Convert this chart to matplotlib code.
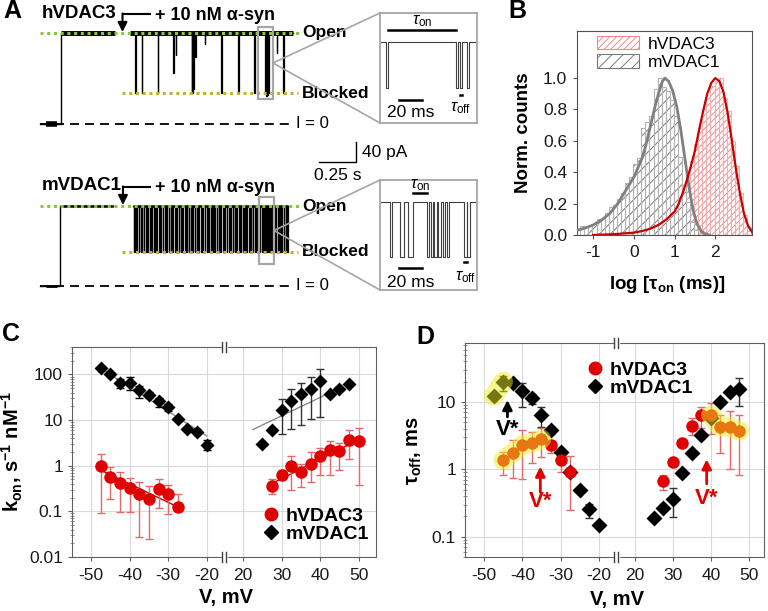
import numpy as np
import matplotlib.pyplot as plt
from matplotlib.lines import Line2D
from matplotlib.patches import Rectangle, Patch, ConnectionPatch
from matplotlib.ticker import LogLocator, NullFormatter

plt.rcParams['font.family'] = ['Liberation Sans', 'DejaVu Sans']
plt.rcParams['mathtext.fontset'] = 'custom'
plt.rcParams['mathtext.rm'] = 'Liberation Sans'
plt.rcParams['mathtext.it'] = 'Liberation Sans:italic'
plt.rcParams['mathtext.bf'] = 'Liberation Sans:bold'
plt.rcParams['axes.unicode_minus'] = False
plt.rcParams['hatch.linewidth'] = 0.7

############################## data ##############################
# --- A: single channel traces, time in s, current in pA (0 = closed)
h3_open, h3_block = 182, 62
h3_t_on = 0.142
h3_gap = (0.507, 0.608)          # alpha-syn added here
h3_t_end = 1.709
h3_ev_t = [0.642, 0.687, 0.795, 0.900, 0.917, 1.026, 1.030, 1.034, 1.049, 1.113,
           1.223, 1.340, 1.448, 1.522, 1.527, 1.532, 1.537, 1.541, 1.599, 1.644]
h3_ev_I = [62, 62, 62, 102, 138, 66, 62, 70, 134, 160,
           62, 62, 62, 62, 56, 62, 58, 62, 142, 62]

m1_shift = -324                  # second trace drawn below the first
m1_open, m1_block = 160, 68
m1_t_on = 0.135
m1_gap = (0.493, 0.628)
m1_t_end = 1.676
m1_ev_t = [0.632, 0.645, 0.651, 0.668, 0.680, 0.688, 0.702, 0.716, 0.724, 0.741,
           0.750, 0.768, 0.779, 0.787, 0.805, 0.812, 0.830, 0.846, 0.853, 0.870,
           0.884, 0.893, 0.912, 0.920, 0.938, 0.951, 0.962, 0.980, 0.990, 1.006,
           1.019, 1.027, 1.046, 1.058, 1.070, 1.088, 1.096, 1.113, 1.130, 1.139,
           1.155, 1.168, 1.176, 1.195, 1.207, 1.219, 1.236, 1.245, 1.262, 1.277,
           1.286, 1.303, 1.316, 1.327, 1.345, 1.356, 1.372, 1.386, 1.395, 1.412,
           1.425, 1.437, 1.455, 1.466, 1.480, 1.497, 1.507, 1.522, 1.537, 1.547,
           1.564, 1.578, 1.590, 1.606, 1.618, 1.631, 1.648, 1.660, 1.672]

# insets, time in ms
in1_start = [5.5, 66.0, 69.6, 75.5]
in1_end = [6.7, 68.2, 71.2, 77.1]
in2_start = [8.7, 17.4, 24.6, 40.6, 44.1, 46.9, 50.7, 54.5, 58.0, 73.0, 75.9]
in2_end = [10.1, 20.9, 28.4, 42.9, 45.8, 49.3, 52.8, 56.5, 60.3, 75.4, 78.3]

# --- B: tau_on histograms (log10 ms) and fitted curves
m1_bin_c = np.arange(31) * 0.1 - 1.27
m1_hist = [0.06, 0.05, 0.06, 0.07, 0.10, 0.10, 0.14, 0.18, 0.19, 0.23, 0.27, 0.33, 0.37,
           0.45, 0.49, 0.68, 0.72, 0.76, 0.93, 1.00, 0.94, 0.92, 0.86, 0.76, 0.50, 0.32,
           0.21, 0.08, 0.03, 0.01, 0.005]
h3_bin_c = np.arange(30) * 0.1 - 0.07
h3_hist = [0.01, 0.02, 0.02, 0.03, 0.03, 0.04, 0.05, 0.07, 0.08, 0.10, 0.13, 0.16, 0.21,
           0.28, 0.38, 0.47, 0.58, 0.68, 0.80, 0.87, 0.95, 0.98, 1.00, 0.87, 0.79, 0.60,
           0.44, 0.27, 0.13, 0.05]
m1_fit_x = [-1.4, -1.2, -1.0, -0.8, -0.6, -0.4, -0.2, 0.0, 0.2, 0.3, 0.4, 0.5, 0.6, 0.7,
            0.76, 0.85, 0.95, 1.05, 1.15, 1.25, 1.35, 1.45, 1.55, 1.65, 1.75, 1.85]
m1_fit_y = [0.03, 0.045, 0.064, 0.095, 0.135, 0.2, 0.285, 0.37, 0.49, 0.58, 0.69, 0.80,
            0.90, 0.98, 1.0, 0.98, 0.92, 0.82, 0.67, 0.49, 0.31, 0.16, 0.07, 0.025, 0.008, 0.0]
h3_fit_x = [-1.0, -0.5, 0.0, 0.2, 0.4, 0.6, 0.8, 1.0, 1.1, 1.2, 1.3, 1.4, 1.5, 1.6, 1.7,
            1.8, 1.9, 2.0, 2.1, 2.2, 2.3, 2.4, 2.5, 2.6, 2.7, 2.8, 2.9]
h3_fit_y = [0.0, 0.005, 0.015, 0.025, 0.04, 0.064, 0.1, 0.15, 0.2, 0.27, 0.35, 0.44, 0.54,
            0.67, 0.79, 0.9, 0.97, 1.0, 0.98, 0.91, 0.78, 0.61, 0.43, 0.27, 0.14, 0.06, 0.02]

# --- C: k_on (s^-1 nM^-1) vs V (mV)
c_h3_vn = [-47.5, -45, -42.5, -40, -37.5, -35, -32.5, -30, -27.5]
c_h3_kn = [0.98, 0.57, 0.42, 0.33, 0.237, 0.19, 0.315, 0.237, 0.122]
c_h3_kn_hi = [1.83, 0.93, 0.73, 0.55, 0.43, 0.355, 0.50, 0.37, 0.245]
c_h3_kn_lo = [0.09, 0.19, 0.098, 0.098, 0.028, 0.0245, 0.12, 0.087, 0.122]
c_m1_vn = [-47.5, -45, -42.5, -40, -37.5, -35, -32.5, -30, -27.5, -25, -22.5, -20]
c_m1_kn = [141, 101, 64, 66, 46, 36, 26.5, 19, 10.6, 6.4, 5.6, 2.9]
c_m1_kn_hi = [141, 101, 80, 86, 56, 42, 31, 22, 10.6, 6.4, 6.3, 3.6]
c_m1_kn_lo = [141, 101, 50, 46, 31, 30, 19, 16, 10.6, 6.4, 5.0, 2.16]
c_h3_vp = [27.5, 30, 32.5, 35, 37.5, 40, 42.5, 45, 47.5, 50]
c_h3_kp = [0.355, 0.636, 0.98, 0.73, 1.1, 1.6, 2.16, 2.09, 3.75, 3.56]
c_h3_kp_hi = [0.5, 0.79, 1.62, 1.1, 1.98, 2.47, 3.56, 3.12, 6.1, 6.7]
c_h3_kp_lo = [0.245, 0.52, 0.29, 0.34, 0.44, 0.64, 0.62, 0.79, 1.42, 0.37]
c_m1_vp = [25, 27.5, 30, 32.5, 35, 37.5, 40, 42.5, 45, 47.5]
c_m1_kp = [3.0, 6.1, 16.9, 26.5, 37, 47.5, 72, 37, 49, 63]
c_m1_kp_hi = [3.0, 6.1, 28.8, 47.5, 64, 88, 130, 37, 49, 63]
c_m1_kp_lo = [3.0, 6.1, 5.0, 6.4, 7.9, 10.6, 11.9, 37, 49, 63]
# exponential fits (end points)
fit_h3_n = ([-47.5, -27.5], [0.8, 0.125])
fit_m1_n = ([-47.5, -20], [135, 4.5])
fit_h3_p = ([27.5, 50], [0.41, 3.7])
fit_m1_p = ([22.5, 45], [6.2, 50])

# --- D: tau_off (ms) vs V (mV)
d_m1_vn = [-47.5, -45, -42.5, -40, -37.5, -35, -32.5, -30, -27.5, -25, -22.5, -20]
d_m1_tn = [12.3, 20.1, 19.0, 14.3, 11.6, 6.4, 3.8, 1.81, 0.91, 0.50, 0.26, 0.15]
d_m1_tn_hi = [12.3, 24.7, 19.0, 19.4, 13.0, 8.5, 4.2, 1.97, 0.91, 0.50, 0.31, 0.15]
d_m1_tn_lo = [12.3, 14.3, 19.0, 8.5, 9.2, 4.3, 3.4, 1.6, 0.91, 0.50, 0.19, 0.15]
d_h3_vn = [-45, -42.5, -40, -37.5, -35, -32.5, -30, -27.5]
d_h3_tn = [1.36, 1.77, 2.28, 2.47, 2.8, 2.28, 1.39, 0.91]
d_h3_tn_hi = [1.81, 2.71, 3.82, 3.6, 4.05, 2.62, 1.71, 1.58]
d_h3_tn_lo = [0.83, 0.74, 0.71, 1.26, 1.53, 1.77, 0.91, 0.25]
d_m1_vp = [25, 27.5, 30, 32.5, 35, 37.5, 40, 42.5, 45, 47.5]
d_m1_tp = [0.188, 0.265, 0.365, 0.89, 1.75, 3.22, 5.84, 9.9, 13.9, 15.6]
d_m1_tp_hi = [0.188, 0.265, 0.53, 0.89, 1.75, 3.22, 5.84, 9.9, 13.9, 22.6]
d_m1_tp_lo = [0.188, 0.265, 0.199, 0.89, 1.75, 3.22, 5.84, 9.9, 13.9, 8.8]
d_h3_vp = [27.5, 30, 32.5, 35, 37.5, 40, 42.5, 45, 47.5]
d_h3_tp = [0.67, 1.29, 2.5, 4.43, 6.4, 6.4, 4.28, 4.28, 3.69]
d_h3_tp_hi = [0.83, 1.29, 2.5, 5.7, 8.5, 9.5, 6.4, 7.3, 6.4]
d_h3_tp_lo = [0.50, 1.29, 2.5, 3.2, 4.05, 3.3, 1.77, 1.02, 0.83]
# V* arrows: (V, base, tip, label y)
vstar = [(-43.9, 6.0, 10.7, 3.95, 'k'), (-35.3, 0.46, 1.1, 0.33, 'r'), (38.9, 0.61, 1.41, 0.365, 'r')]

RED = '#e00000'
RED_ERR = '#e46a6a'
HILITE = '#eeee22'

############################## figure ##############################
W, H = 768, 611
fig = plt.figure(figsize=(W / 100, H / 100), dpi=100)


def box(x0, y0, x1, y1):
    return [x0 / W, 1 - y1 / H, (x1 - x0) / W, (y1 - y0) / H]


def fxy(x, y):
    return (x / W, 1 - y / H)


def fline(xs, ys, **kw):
    fig.add_artist(Line2D([x / W for x in xs], [1 - y / H for y in ys],
                          transform=fig.transFigure, **kw))


for lab, x, y in [('A', 3, 11), ('B', 508, 11), ('C', 2, 334), ('D', 416, 337)]:
    fig.text(*fxy(x, y), lab, fontsize=18, fontweight='bold', ha='left', va='center')

############################## A ##############################
axA = fig.add_axes(box(30, 0, 512, 300))
axA.set_xlim(-10 / 148, 472 / 148)
axA.set_ylim(-352, 248)
axA.axis('off')


def trace_arrays(t_on, gap, t_end, ev_t, ev_I, i_open, dwell):
    t1 = [0, t_on, t_on, gap[0]]
    y1 = [0, 0, i_open, i_open]
    t2, y2 = [gap[1]], [i_open]
    for te, ib in zip(ev_t, ev_I):
        t2 += [te, te, te + dwell, te + dwell]
        y2 += [i_open, ib, ib, i_open]
    t2.append(t_end)
    y2.append(i_open)
    return np.array(t1), np.array(y1), np.array(t2), np.array(y2)


def draw_trace(name, t_on, gap, t_end, ev_t, ev_I, i_open, i_block, shift, band, blob):
    t1, y1, t2, y2 = trace_arrays(t_on, gap, t_end, ev_t, ev_I, i_open, 0.004)
    axA.plot(t1, y1 + shift, color='k', lw=1)
    axA.plot(t2, y2 + shift, color='k', lw=0.9)
    # noisy open level
    axA.plot([t_on, gap[0]], [i_open + shift] * 2, color='k', lw=band, solid_capstyle='butt')
    axA.plot([gap[1], t_end], [i_open + shift] * 2, color='k', lw=band, solid_capstyle='butt')
    axA.plot([0.04, 0.115], [shift, shift], color='k', lw=blob, solid_capstyle='butt')
    # levels
    axA.plot([0, 1.757], [i_open + shift] * 2, color='#8cc63e', lw=2.2, ls=(0, (1, 1.2)), zorder=4)
    axA.plot([0.554, 1.743], [i_block + shift] * 2, color='#c4b22e', lw=2.2, ls=(0, (1, 1.2)), zorder=4)
    axA.plot([0, 1.689], [shift, shift], color='k', lw=1.3, ls=(0, (5, 3.3)))
    axA.text(1.73, shift, 'I = 0', fontsize=12, ha='left', va='center')
    axA.text(1.77, i_open + shift, 'Open', fontsize=12.5, fontweight='bold', ha='left', va='center')
    axA.text(1.77, i_block + shift, 'Blocked', fontsize=12.5, fontweight='bold', ha='left', va='center')
    axA.text(0.0135, i_open + shift + 40, name, fontsize=13.5, fontweight='bold', ha='left', va='center')
    # alpha-syn addition
    ta = (gap[0] + gap[1]) / 2
    axA.text(0.775, i_open + shift + 36, '+ 10 nM α-syn', fontsize=13, fontweight='bold',
             ha='left', va='center')
    axA.plot([0.745, ta], [i_open + shift + 38] * 2, color='k', lw=1.5)
    axA.annotate('', xy=(ta, i_open + shift + 2), xytext=(ta, i_open + shift + 39),
                 arrowprops=dict(arrowstyle='-|>', color='k', lw=1.5, mutation_scale=14,
                                 shrinkA=0, shrinkB=0))


draw_trace('hVDAC3', h3_t_on, h3_gap, h3_t_end, h3_ev_t, h3_ev_I, h3_open, h3_block, 0, 3.5, 4)
draw_trace('mVDAC1', m1_t_on, m1_gap, m1_t_end, m1_ev_t, [m1_block] * len(m1_ev_t),
           m1_open, m1_block, m1_shift, 1.8, 2)

# zoomed regions
zooms = [(1.473, 1.574, 50, 194), (1.480, 1.581, 44 + m1_shift, 178 + m1_shift)]
for t0, t1, i0, i1 in zooms:
    axA.add_patch(Rectangle((t0, i0), t1 - t0, i1 - i0, fill=False, ec='#a6a6a6', lw=1.6, zorder=5))

# scale bar
axA.plot([1.885, 2.135, 2.135], [-76, -76, -36], color='k', lw=1)
axA.text(2.176, -56, '40 pA', fontsize=12.5, ha='left', va='center')
axA.text(2.01, -104, '0.25 s', fontsize=12.5, ha='center', va='center')


def inset(rect, ylim, start, end, i_open, i_block, ton_pair, toff_idx, ton_y, bar_y, toff_y):
    ax = fig.add_axes(box(*rect))
    ax.set_xlim(0, 84.3)
    ax.set_ylim(*ylim)
    ax.set_xticks([])
    ax.set_yticks([])
    for s in ax.spines.values():
        s.set_color('#a6a6a6')
        s.set_linewidth(1.3)
    t, y = [0.5], [i_open]
    for a, b in zip(start, end):
        t += [a, a, b, b]
        y += [i_open, i_block, i_block, i_open]
    t.append(84)
    y.append(i_open)
    ax.plot(t, y, color='#404040', lw=0.8)
    t_a, t_b = end[ton_pair[0]], start[ton_pair[1]]
    ax.plot([t_a, t_b], [ton_y[0]] * 2, color='k', lw=1.8)
    ax.text((t_a + t_b) / 2, ton_y[1], r'$\tau_{\rm on}$', fontsize=12, ha='center', va='center')
    ax.plot([16.5, 36.5], [bar_y[0]] * 2, color='k', lw=1.8)
    ax.text(26.5, bar_y[1], '20 ms', fontsize=12.5, ha='center', va='center')
    ax.plot([start[toff_idx], end[toff_idx]], [toff_y[0]] * 2, color='k', lw=1.8)
    ax.text((start[toff_idx] + end[toff_idx]) / 2, toff_y[1], r'$\tau_{\rm off}$', fontsize=12,
            ha='center', va='center')
    return ax


ins1 = inset((380, 13, 477, 123), (-29.3, 257.7), in1_start, in1_end, 182, 62,
             (0, 1), 2, (213, 236), (30.7, -3), (44, 9.8))
ins2 = inset((380, 180, 477, 290), (12.8, 196.8), in2_start, in2_end, 160, 68,
             (2, 3), 9, (175, 188), (49.6, 26), (59.6, 34))

for (t0, t1, i0, i1), ax in zip(zooms, [ins1, ins2]):
    for yb in (0, 1):
        fig.add_artist(ConnectionPatch(xyA=(t1, (i0 + i1) / 2), coordsA='data', axesA=axA,
                                       xyB=(0, yb), coordsB='axes fraction', axesB=ax,
                                       color='#a6a6a6', lw=1.2))

############################## B ##############################
axB = fig.add_axes(box(577, 31, 752, 235))
axB.bar(h3_bin_c, h3_hist, width=0.1, color='white', edgecolor='#f08a8a', hatch='/////', lw=0, zorder=1)
axB.bar(h3_bin_c, h3_hist, width=0.1, fill=False, edgecolor='#f3b0b0', lw=0.8, zorder=1)
axB.bar(m1_bin_c, m1_hist, width=0.1, color='white', edgecolor='#7a7a7a', hatch='///', lw=0, zorder=2)
axB.bar(m1_bin_c, m1_hist, width=0.1, fill=False, edgecolor='#b4b4b4', lw=0.8, zorder=2)
axB.plot(m1_fit_x, m1_fit_y, color='#808080', lw=2, zorder=4)
axB.plot(h3_fit_x, h3_fit_y, color='#c80000', lw=1.6, zorder=4)
axB.set_xlim(-1.4, 2.9)
axB.set_ylim(0, 1.3)
axB.set_xticks([-1, 0, 1, 2])
axB.set_yticks([0, 0.2, 0.4, 0.6, 0.8, 1.0])
axB.set_yticklabels(['0.0', '0.2', '0.4', '0.6', '0.8', '1.0'])
axB.tick_params(labelsize=12.5, length=3, colors='#505050', labelcolor='#1a1a1a', pad=4)
for s in axB.spines.values():
    s.set_color('#505050')
hB = [Patch(facecolor='white', edgecolor='#f08a8a', hatch='/////', lw=0.8, label='hVDAC3'),
      Patch(facecolor='white', edgecolor='#7a7a7a', hatch='///', lw=0.8, label='mVDAC1')]
axB.legend(handles=hB, loc='upper left', bbox_to_anchor=fxy(597, 36), bbox_transform=fig.transFigure,
           frameon=False, fontsize=12.5, handlelength=2.4, handleheight=0.8, borderpad=0,
           borderaxespad=0, labelspacing=0.15, handletextpad=0.5)
fig.text(*fxy(524, 133), 'Norm. counts', rotation=90, fontsize=13.5, fontweight='bold',
         ha='center', va='center')
fig.text(*fxy(667, 285), r'log [τ$_{\mathbf{on}}$ (ms)]', fontsize=13.5, fontweight='bold',
         ha='center', va='center')

############################## C & D ##############################


def split_axes(x0, y0, xm, x1, y1, xl1, xl2, ylim, yt, ytl):
    a1 = fig.add_axes(box(x0, y0, xm, y1))
    a2 = fig.add_axes(box(xm, y0, x1, y1), sharey=a1)
    for a in (a1, a2):
        a.set_yscale('log')
        a.set_axisbelow(True)
        a.grid(True, which='major', color='#d9d9d9', lw=0.8)
        for s in a.spines.values():
            s.set_color('#606060')
        a.tick_params(axis='x', direction='out', length=3, labelsize=12.5, colors='#606060',
                      labelcolor='#1a1a1a', pad=5)
    a1.set_xlim(*xl1)
    a2.set_xlim(*xl2)
    a1.set_ylim(*ylim)
    a1.spines['right'].set_visible(False)
    a2.spines['left'].set_visible(False)
    a1.set_yticks(yt)
    a1.set_yticklabels(ytl)
    a1.yaxis.set_minor_locator(LogLocator(subs=np.arange(2, 10)))
    a1.yaxis.set_minor_formatter(NullFormatter())
    a1.tick_params(axis='y', which='major', direction='out', length=3, labelsize=12.5,
                   colors='#606060', labelcolor='#1a1a1a')
    a1.tick_params(axis='y', which='minor', direction='inout', length=3, colors='#808080')
    a2.tick_params(axis='y', which='both', left=False, labelleft=False)
    a1.set_xticks([-50, -40, -30, -20])
    a2.set_xticks([20, 30, 40, 50])
    # axis break marks
    for y in (y0, y1):
        fline([xm - 1.5, xm + 1.5], [y, y], color='white', lw=2.5)
        for dx in (-2, 2):
            fline([xm + dx, xm + dx], [y - 5, y + 5], color='#404040', lw=1)
    return a1, a2


def errpts(ax, v, y, lo, hi, color, ecolor, marker, ms, z=3):
    y, lo, hi = np.array(y), np.array(lo), np.array(hi)
    ax.errorbar(v, y, yerr=[y - lo, hi - y], fmt=marker, color=color, ecolor=ecolor, ms=ms,
                mec='none', elinewidth=1, capsize=3, capthick=1, zorder=z)


axC1, axC2 = split_axes(72, 347, 224, 376, 557, (-55, -15.5), (15, 54.5), (0.01, 400),
                        [0.01, 0.1, 1, 10, 100], ['0.01', '0.1', '1', '10', '100'])
axC1.plot(*fit_m1_n, color='#8a8a8a', lw=1, zorder=2)
axC1.plot(*fit_h3_n, color='#c00000', lw=1, zorder=2)
axC2.plot(*fit_m1_p, color='#8a8a8a', lw=1, zorder=2)
axC2.plot(*fit_h3_p, color='#c00000', lw=1, zorder=2)
errpts(axC1, c_h3_vn, c_h3_kn, c_h3_kn_lo, c_h3_kn_hi, RED, RED_ERR, 'o', 9)
errpts(axC1, c_m1_vn, c_m1_kn, c_m1_kn_lo, c_m1_kn_hi, 'k', 'k', 'D', 7.5)
errpts(axC2, c_h3_vp, c_h3_kp, c_h3_kp_lo, c_h3_kp_hi, RED, RED_ERR, 'o', 9)
errpts(axC2, c_m1_vp, c_m1_kp, c_m1_kp_lo, c_m1_kp_hi, 'k', '#333333', 'D', 7.5)
hC = [Line2D([], [], ls='', marker='o', color=RED, ms=9, label='hVDAC3'),
      Line2D([], [], ls='', marker='D', color='k', ms=7.5, label='mVDAC1')]
axC2.legend(handles=hC, loc='upper left', bbox_to_anchor=fxy(263, 507), bbox_transform=fig.transFigure,
            frameon=False, prop=dict(weight='bold', size=14), handlelength=0.8, handletextpad=0.35,
            labelspacing=0.05, borderpad=0, borderaxespad=0)
fig.text(*fxy(12, 452), r'k$_{\mathbf{on}}$, s$^{\mathbf{-1}}$ nM$^{\mathbf{-1}}$', rotation=90,
         fontsize=14.5, fontweight='bold', ha='center', va='center')
fig.text(*fxy(226, 598), 'V, mV', fontsize=14.5, fontweight='bold', ha='center', va='center')

axD1, axD2 = split_axes(465, 343, 616, 764, 557, (-55, -15.5), (15, 54), (0.05, 75),
                        [0.1, 1, 10], ['0.1', '1', '10'])
errpts(axD1, d_m1_vn, d_m1_tn, d_m1_tn_lo, d_m1_tn_hi, 'k', '#333333', 'D', 8)
errpts(axD1, d_h3_vn, d_h3_tn, d_h3_tn_lo, d_h3_tn_hi, RED, RED_ERR, 'o', 9)
errpts(axD2, d_m1_vp, d_m1_tp, d_m1_tp_lo, d_m1_tp_hi, 'k', '#333333', 'D', 8)
errpts(axD2, d_h3_vp, d_h3_tp, d_h3_tp_lo, d_h3_tp_hi, RED, RED_ERR, 'o', 9)
# highlighted points (V* regions)
axD1.plot(d_m1_vn[:2], d_m1_tn[:2], color=HILITE, alpha=0.5, lw=14, solid_capstyle='round', zorder=5)
axD1.plot(d_h3_vn[:5], d_h3_tn[:5], color=HILITE, alpha=0.5, lw=14, solid_capstyle='round', zorder=5)
axD2.plot(d_h3_vp[5:], d_h3_tp[5:], color=HILITE, alpha=0.5, lw=14, solid_capstyle='round', zorder=5)
for v, y0, y1, ylab, c in vstar:
    ax = axD1 if v < 0 else axD2
    col = 'k' if c == 'k' else RED
    ax.annotate('', xy=(v, y1), xytext=(v, y0),
                arrowprops=dict(arrowstyle='-|>', color=col, lw=2, mutation_scale=14, shrinkA=0, shrinkB=0))
    ax.text(v, ylab, 'V*', color=col, fontsize=16, fontweight='bold', ha='center', va='center')
hD = [Line2D([], [], ls='', marker='o', color=RED, ms=9, label='hVDAC3'),
      Line2D([], [], ls='', marker='D', color='k', ms=7.5, label='mVDAC1')]
axD2.legend(handles=hD, loc='upper left', bbox_to_anchor=fxy(587, 361), bbox_transform=fig.transFigure,
            frameon=False, prop=dict(weight='bold', size=14), handlelength=0.8, handletextpad=0.35,
            labelspacing=0.05, borderpad=0, borderaxespad=0)
fig.text(*fxy(415, 450), r'τ$_{\mathbf{off}}$, ms', rotation=90, fontsize=14.5, fontweight='bold',
         ha='center', va='center')
fig.text(*fxy(617, 600), 'V, mV', fontsize=14.5, fontweight='bold', ha='center', va='center')

fig.savefig('out.png', dpi=100)
